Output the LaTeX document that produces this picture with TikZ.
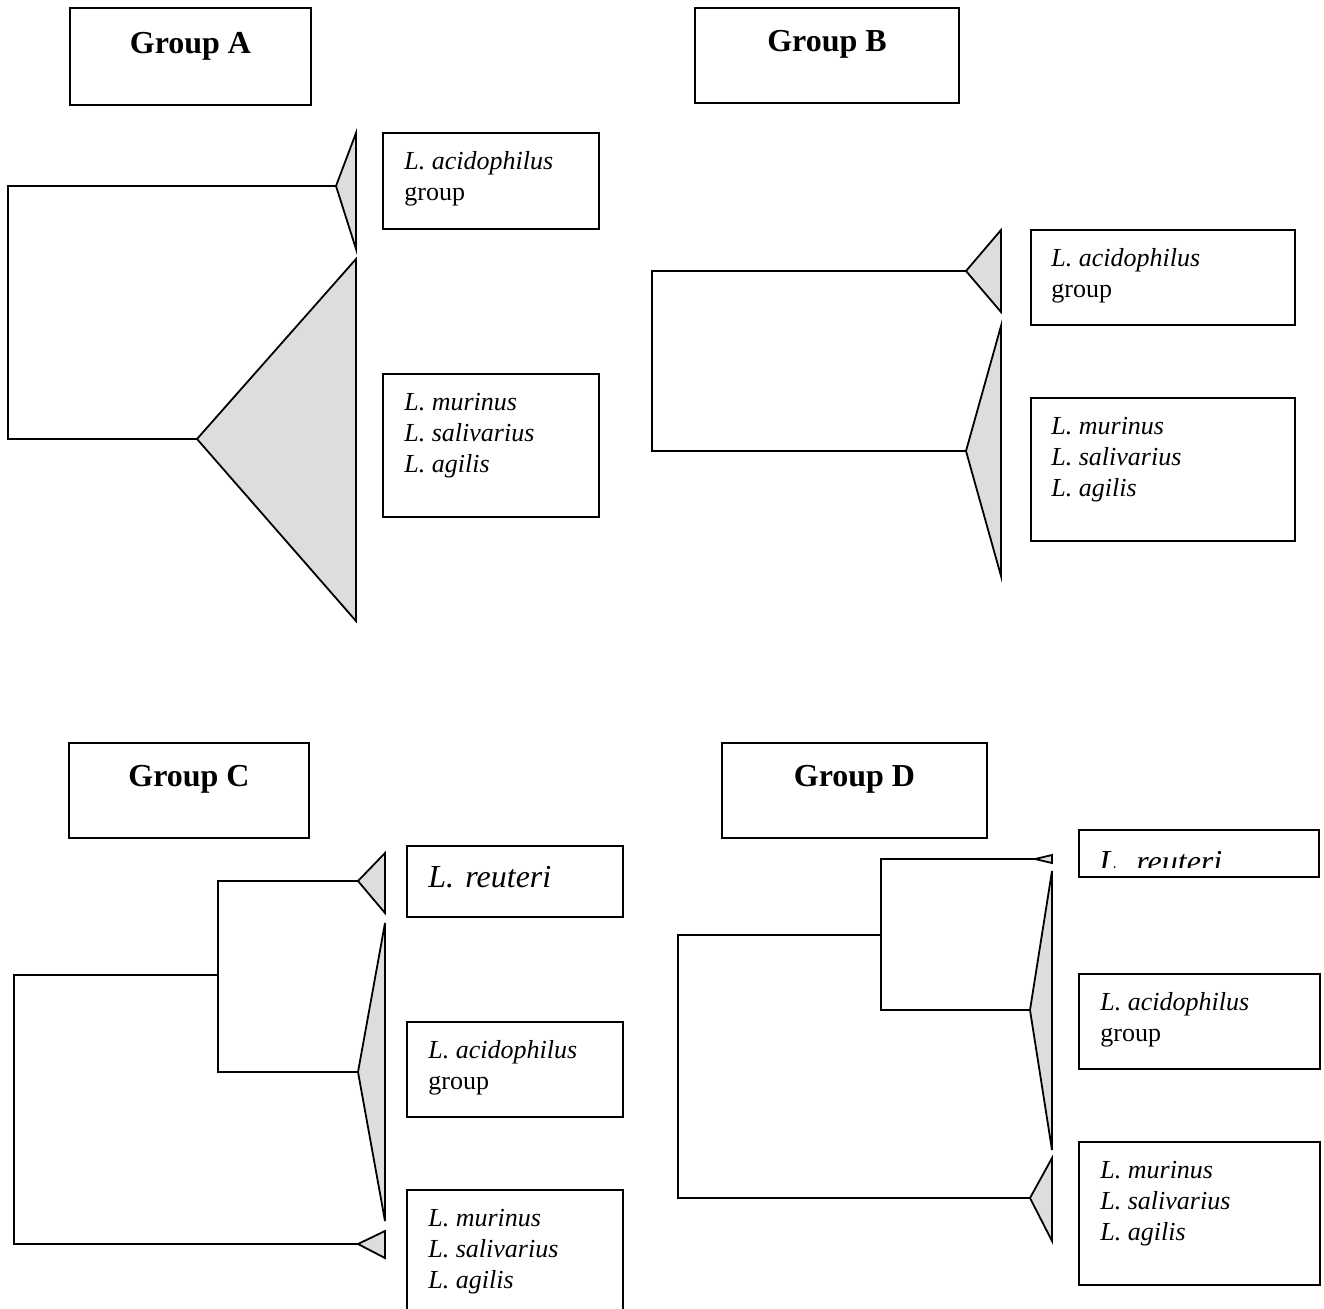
\documentclass[tikz,border=0pt]{standalone}
\usepackage{fontspec}
\setmainfont{Liberation Serif}
\definecolor{cladefill}{HTML}{DDDDDD}
\begin{document}
\begin{tikzpicture}[x=0.5pt,y=-0.5pt,
  box/.style={draw,line width=1pt,inner sep=0,outer sep=0,anchor=north west},
  clade/.style={draw,line width=0.9pt,fill=cladefill,line join=miter},
  branch/.style={draw,line width=0.9pt},
  title/.style={anchor=base,inner sep=0,font=\fontsize{16}{19}\selectfont\bfseries},
  sp/.style={anchor=base west,inner sep=0,font=\fontsize{13}{15}\selectfont\itshape},
  grp/.style={anchor=base west,inner sep=0,font=\fontsize{13}{15}\selectfont},
  big/.style={anchor=base west,inner sep=0,font=\fontsize{16}{19}\selectfont\itshape}
]
\useasboundingbox (0,0) rectangle (1324,1308);

% ---------------- Group A ----------------
\node[box,minimum width=120.5pt,minimum height=48.5pt] (tA) at (70,8) {};
\node[title] (tAt) at (190.5,53) {Group A};
\node[box,minimum width=108pt,minimum height=48pt] (A1) at (383,133) {};
\node[sp] (A1a) at (404,169) {L. acidophilus};
\node[grp] (A1b) at (404,200) {group};
\node[box,minimum width=108pt,minimum height=71.5pt] (A2) at (383,374) {};
\node[sp] (A2a) at (404,410) {L. murinus};
\node[sp] (A2b) at (404,441) {L. salivarius};
\node[sp] (A2c) at (404,472) {L. agilis};
\coordinate (aR) at (8,312);
\coordinate (a1) at (336,186);
\coordinate (a2) at (197,439);
\draw[clade] (a1) -- (356,133) -- (356,249) -- cycle;
\draw[clade] (a2) -- (356,259) -- (356,621) -- cycle;
\draw[branch] (a1) -| (aR) |- (a2);

% ---------------- Group B ----------------
\node[box,minimum width=132pt,minimum height=47.5pt] (tB) at (695,8) {};
\node[title] (tBt) at (827,51) {Group B};
\node[box,minimum width=132pt,minimum height=47.5pt] (B1) at (1031,230) {};
\node[sp] (B1a) at (1051,266) {L. acidophilus};
\node[grp] (B1b) at (1051,297) {group};
\node[box,minimum width=132pt,minimum height=71.5pt] (B2) at (1031,398) {};
\node[sp] (B2a) at (1051,434) {L. murinus};
\node[sp] (B2b) at (1051,465) {L. salivarius};
\node[sp] (B2c) at (1051,496) {L. agilis};
\coordinate (bR) at (652,361);
\coordinate (b1) at (966,271);
\coordinate (b2) at (966,451);
\draw[clade] (b1) -- (1001,230) -- (1001,312) -- cycle;
\draw[clade] (b2) -- (1001,326) -- (1001,576) -- cycle;
\draw[branch] (b1) -| (bR) |- (b2);

% ---------------- Group C ----------------
\node[box,minimum width=120pt,minimum height=47.5pt] (tC) at (69,743) {};
\node[title] (tCt) at (189,786) {Group C};
\node[box,minimum width=108pt,minimum height=35.5pt] (C1) at (407,846) {};
\node[big] (C1a) at (428,887) {L.\hspace{0.35em}reuteri};
\node[box,minimum width=108pt,minimum height=47.5pt] (C2) at (407,1022) {};
\node[sp] (C2a) at (428,1058) {L. acidophilus};
\node[grp] (C2b) at (428,1089) {group};
\node[box,minimum width=108pt,minimum height=70pt] (C3) at (407,1190) {};
\node[sp] (C3a) at (428,1226) {L. murinus};
\node[sp] (C3b) at (428,1257) {L. salivarius};
\node[sp] (C3c) at (428,1288) {L. agilis};
\coordinate (cR) at (14,1110);
\coordinate (cI) at (218,975);
\coordinate (c1) at (358,881);
\coordinate (c2) at (358,1072);
\coordinate (c3) at (358,1244);
\draw[clade] (c1) -- (385,853) -- (385,913) -- cycle;
\draw[clade] (c2) -- (385,923) -- (385,1221) -- cycle;
\draw[clade] (c3) -- (385,1231) -- (385,1258) -- cycle;
\draw[branch] (c1) -| (cI) |- (c2);
\draw[branch] (cI) -| (cR) |- (c3);

% ---------------- Group D ----------------
\node[box,minimum width=132.5pt,minimum height=47.5pt] (tD) at (722,743) {};
\node[title] (tDt) at (854.5,786) {Group D};
\node[box,minimum width=120pt,minimum height=23.5pt] (D1) at (1079,830) {};
\begin{scope}
  \clip (1079,830) rectangle (1319,867);
  \node[big] (D1a) at (1099,872) {L.\hspace{0.35em}reuteri};
\end{scope}
\node[box,minimum width=120.5pt,minimum height=47.5pt] (D2) at (1079,974) {};
\node[sp] (D2a) at (1100,1010) {L. acidophilus};
\node[grp] (D2b) at (1100,1041) {group};
\node[box,minimum width=120.5pt,minimum height=71.5pt] (D3) at (1079,1142) {};
\node[sp] (D3a) at (1100,1178) {L. murinus};
\node[sp] (D3b) at (1100,1209) {L. salivarius};
\node[sp] (D3c) at (1100,1240) {L. agilis};
\coordinate (dR) at (678,1060);
\coordinate (dI) at (881,935);
\coordinate (d1) at (1035,859);
\coordinate (d2) at (1030,1010);
\coordinate (d3) at (1030,1198);
\draw[clade] (d1) -- (1052,855) -- (1052,863) -- cycle;
\draw[clade] (d2) -- (1052,871) -- (1052,1150) -- cycle;
\draw[clade] (d3) -- (1052,1158) -- (1052,1241) -- cycle;
\draw[branch] (d1) -| (dI) |- (d2);
\draw[branch] (dI) -| (dR) |- (d3);
\end{tikzpicture}
\end{document}
